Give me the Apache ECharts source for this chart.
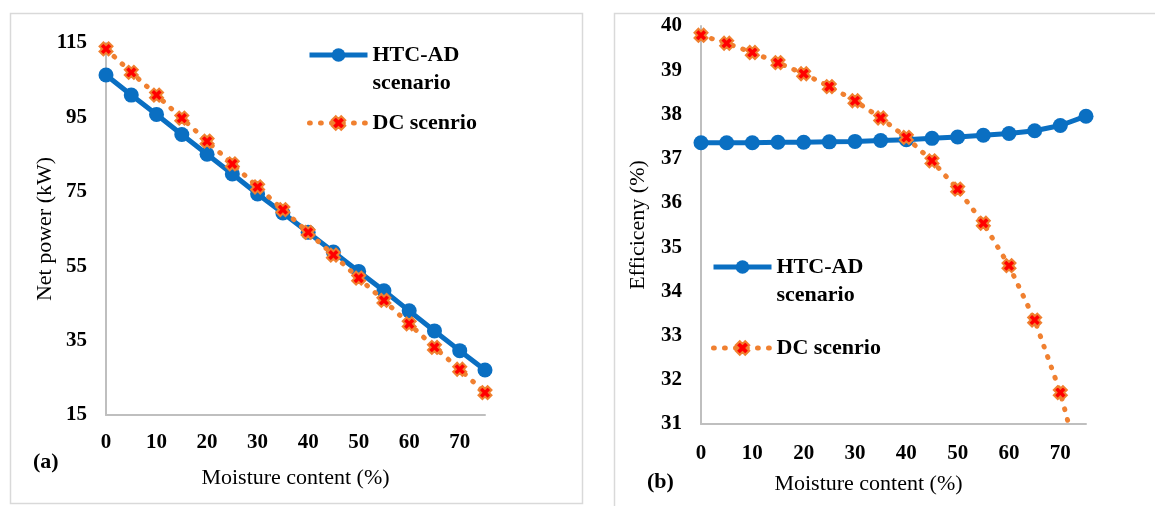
<!DOCTYPE html>
<html>
<head>
<meta charset="utf-8">
<script src="https://cdn.jsdelivr.net/npm/echarts@6/dist/echarts.min.js"></script>
<style>
html,body{margin:0;padding:0;background:#fff;}
#c{width:1155px;height:506px;}
</style>
</head>
<body>
<div id="c"></div>
<script>
const moisture = [0,5,10,15,20,25,30,35,40,45,50,55,60,65,70,75];
const powerHTC = [106.4,101.0,95.8,90.4,85.1,79.8,74.4,69.3,64.1,58.8,53.6,48.4,43.0,37.6,32.3,27.1];
const powerDC  = [113.4,107.1,101.0,94.8,88.6,82.5,76.3,70.2,64.1,58.0,51.8,45.8,39.5,33.2,27.3,21.0];
const effHTC = [37.36,37.36,37.36,37.37,37.37,37.38,37.39,37.41,37.43,37.46,37.49,37.53,37.57,37.63,37.75,37.96];
const effDC  = [39.79,39.61,39.40,39.17,38.92,38.63,38.31,37.92,37.48,36.95,36.31,35.54,34.58,33.35,31.71,29.5];
const moistureTicks = [0,10,20,30,40,50,60,70];
const powerTicks = [15,35,55,75,95,115];
const effTicks = [31,32,33,34,35,36,37,38,39,40];
const nameHTC = 'HTC-AD\nscenario';
const nameDC = 'DC scenrio';

const FONT = '"Liberation Serif","Times New Roman",serif';
const BLUE = '#0A6FC2';
const ORANGE = '#F08030';
const RED = '#FF0000';
const AXIS = '#BFBFBF';
const xMark = 'path://M0,3 L3,0 L5,2 L7,0 L10,3 L8,5 L10,7 L7,10 L5,8 L3,10 L0,7 L2,5 Z';
const htcLine = {color:BLUE, width:5};
const dcLine = {color:ORANGE, width:5, type:[0.8,10.2], cap:'round'};

function pairs(xs, ys){ return xs.map((x,i)=>[x, ys[i]]); }

function xAxis(gi, ticks, nameGap, pad, margin){
  return {
    type:'value', gridIndex:gi, min:0, max:75,
    name:'Moisture content (%)', nameLocation:'middle', nameGap:nameGap, nameMoveOverlap:false,
    nameTextStyle:{fontFamily:FONT, fontSize:22, color:'#000', padding:pad},
    axisLine:{show:true, lineStyle:{color:AXIS, width:2}},
    axisTick:{show:false},
    splitLine:{show:false},
    axisLabel:{customValues:ticks, margin:margin, fontFamily:FONT, fontSize:21, fontWeight:'bold', color:'#000'}
  };
}
function yAxis(gi, name, min, max, ticks, nameGap){
  return {
    type:'value', gridIndex:gi, min:min, max:max,
    name:name, nameLocation:'middle', nameGap:nameGap, nameMoveOverlap:false,
    nameTextStyle:{fontFamily:FONT, fontSize:22, color:'#000'},
    axisLine:{show:true, lineStyle:{color:AXIS, width:2}},
    axisTick:{show:false},
    splitLine:{show:false},
    axisLabel:{customValues:ticks, margin:19, fontFamily:FONT, fontSize:21, fontWeight:'bold', color:'#000'}
  };
}
function htc(gi, data){
  return {
    name:nameHTC, type:'line', xAxisIndex:gi, yAxisIndex:gi, data:data,
    symbol:'circle', symbolSize:15, clip:true,
    lineStyle:htcLine,
    itemStyle:{color:BLUE},
    z:2
  };
}
function dc(gi, data){
  return {
    name:nameDC, type:'line', xAxisIndex:gi, yAxisIndex:gi, data:data,
    symbol:xMark, symbolSize:13, clip:true,
    lineStyle:dcLine,
    itemStyle:{color:RED, borderColor:ORANGE, borderWidth:2},
    z:3
  };
}
function legend(left, top, name, first){
  return {
    left:left, top:top, orient:'vertical', padding:0, selectedMode:false,
    itemWidth:58, itemHeight:17, itemGap:0,
    lineStyle: first ? htcLine : dcLine,
    formatter: first ? function(n){ return ' \n' + n; } : '{name}',
    textStyle:{fontFamily:FONT, fontSize:22, fontWeight:'bold', color:'#000', lineHeight:28},
    data:[name]
  };
}

const chart = echarts.init(document.getElementById('c'), null, {renderer:'canvas'});
chart.setOption({
  backgroundColor:'#fff',
  animation:false,
  grid:[
    {left:106, top:43, width:379, height:372},
    {left:701, top:26, width:385, height:398}
  ],
  xAxis:[ xAxis(0, moistureTicks, 52, [0,0,0,0], 17), xAxis(1, moistureTicks, 49, [0,50,0,0], 19) ],
  yAxis:[ yAxis(0, 'Net power (kW)', 15, 115, powerTicks, 50), yAxis(1, 'Efficiceny (%)', 31, 40, effTicks, 52) ],
  legend:[
    legend(307, 13, nameHTC, true),
    legend(307, 109, nameDC, false),
    legend(711, 225, nameHTC, true),
    legend(711, 334, nameDC, false)
  ],
  graphic:[
    {type:'rect', z:-10, silent:true, shape:{x:10.5, y:13.5, width:572, height:490}, style:{fill:'none', stroke:'#D9D9D9', lineWidth:1.5}},
    {type:'rect', z:-10, silent:true, shape:{x:614.5, y:13.5, width:700, height:600}, style:{fill:'none', stroke:'#D9D9D9', lineWidth:1.5}},
    {type:'text', left:33, top:451, style:{text:'(a)', font:'bold 22px ' + FONT, fill:'#000'}},
    {type:'text', left:647, top:471, style:{text:'(b)', font:'bold 22px ' + FONT, fill:'#000'}}
  ],
  series:[
    htc(0, pairs(moisture, powerHTC)),
    dc(0, pairs(moisture, powerDC)),
    htc(1, pairs(moisture, effHTC)),
    dc(1, pairs(moisture, effDC))
  ]
});
</script>
</body>
</html>
